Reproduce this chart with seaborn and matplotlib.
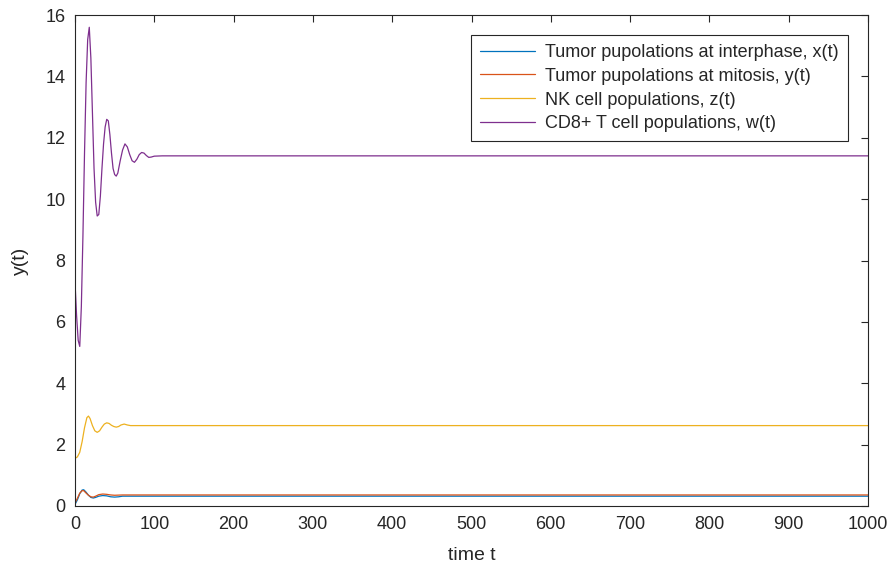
import numpy as np
import pandas as pd
import matplotlib
matplotlib.use("Agg")
import matplotlib.pyplot as plt
import seaborn as sns

# ---- data ----
t_x = [0, 3, 6, 9, 11, 14, 17, 20, 23, 26, 30, 35, 40, 45, 50, 55, 60, 70, 1000]
x_vals = [0.05, 0.20, 0.40, 0.52, 0.53, 0.45, 0.35, 0.28, 0.26, 0.28, 0.32, 0.34, 0.33, 0.30, 0.29, 0.30, 0.32, 0.32, 0.32]

t_y = [0, 3, 6, 9, 11, 14, 17, 20, 23, 26, 30, 35, 40, 45, 50, 60, 1000]
y_vals = [0.10, 0.25, 0.42, 0.50, 0.50, 0.42, 0.35, 0.30, 0.29, 0.32, 0.37, 0.39, 0.38, 0.36, 0.35, 0.36, 0.36]

t_z = [0, 3, 6, 9, 12, 15, 17, 19, 22, 25, 28, 31, 34, 37, 40, 43, 46, 49, 52, 55, 58, 62, 66, 70, 1000]
z_vals = [1.55, 1.60, 1.75, 2.10, 2.55, 2.88, 2.93, 2.85, 2.62, 2.45, 2.40, 2.45, 2.57, 2.67, 2.71, 2.69,
          2.63, 2.59, 2.57, 2.59, 2.64, 2.67, 2.64, 2.62, 2.62]

t_w = [0, 2, 4, 6, 8, 10, 12, 14, 16, 18, 20, 22, 24, 26, 28, 30, 32, 34, 36, 38, 40, 42, 44, 46, 48,
       50, 52, 54, 57, 60, 63, 66, 69, 72, 75, 78, 81, 84, 87, 90, 93, 96, 100, 110, 1000]
w_vals = [7.3, 6.2, 5.4, 5.2, 6.5, 8.8, 11.5, 13.8, 15.2, 15.6, 14.6, 12.8, 11.0, 9.9, 9.45, 9.5, 10.1,
          11.0, 11.8, 12.35, 12.6, 12.55, 12.1, 11.5, 11.0, 10.8, 10.75, 10.85, 11.25, 11.6, 11.8, 11.7,
          11.45, 11.25, 11.2, 11.3, 11.45, 11.52, 11.5, 11.42, 11.36, 11.37, 11.4, 11.41, 11.41]

labels = ["Tumor pupolations at interphase, x(t)",
          "Tumor pupolations at mitosis, y(t)",
          "NK cell populations, z(t)",
          "CD8+ T cell populations, w(t)"]
colors = ["#0072BD", "#D95319", "#EDB120", "#7E2F8E"]

x_ticks = [0, 100, 200, 300, 400, 500, 600, 700, 800, 900, 1000]
y_ticks = [0, 2, 4, 6, 8, 10, 12, 14, 16]

# ---- plotting ----
sns.set_style("white")
plt.rcParams['font.family'] = ['Liberation Sans', 'DejaVu Sans']

fig = plt.figure(figsize=(8.96, 5.72), dpi=100)
ax = fig.add_axes([75 / 896, 1 - 506 / 572, (868 - 75) / 896, (506 - 15) / 572])

series = [(t_x, x_vals), (t_y, y_vals), (t_z, z_vals), (t_w, w_vals)]
for (tt, vv), lab, col in zip(series, labels, colors):
    df = pd.DataFrame({"t": tt, "v": vv})
    sns.lineplot(data=df, x="t", y="v", color=col, label=lab, linewidth=0.9, ax=ax,
                 estimator=None, sort=False)

ax.set_xlim(0, 1000)
ax.set_ylim(0, 16)
ax.set_xticks(x_ticks)
ax.set_yticks(y_ticks)
dark = "#262626"
ax.tick_params(direction="in", top=True, right=True, length=5, width=0.8,
               labelsize=13, colors=dark, pad=7)
for s in ax.spines.values():
    s.set_color(dark)
    s.set_linewidth(0.8)

ax.set_xlabel("time t", fontsize=14, color=dark, labelpad=10)
ax.set_ylabel("y(t)", fontsize=14, color=dark, labelpad=12)

leg = ax.legend(loc="upper right", fontsize=13, frameon=True, fancybox=False,
                edgecolor=dark, framealpha=1, handlelength=3.0, borderaxespad=1.1,
                labelspacing=0.38, handletextpad=0.6, borderpad=0.5)
leg.get_frame().set_linewidth(0.8)

fig.savefig("out.png", dpi=100)
